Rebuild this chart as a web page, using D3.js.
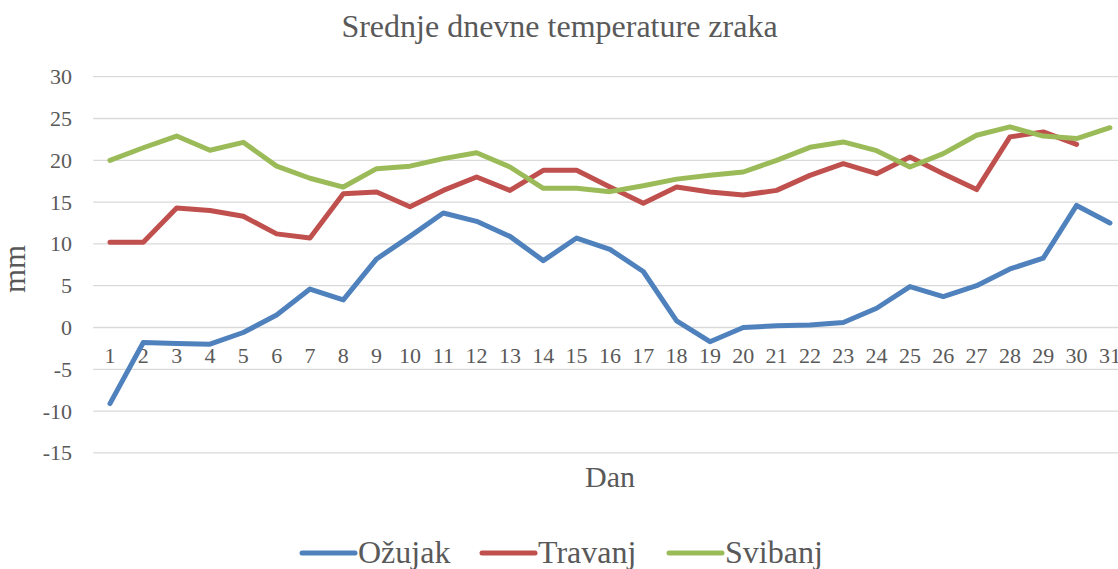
<!DOCTYPE html>
<html>
<head>
<meta charset="utf-8">
<title>Srednje dnevne temperature zraka</title>
<script src="https://cdn.jsdelivr.net/npm/d3@7"></script>
<style>
    body { margin: 0; background: #fff; }
    svg { display: block; }
    text { font-family: "Liberation Serif", "Times New Roman", serif; fill: #595959; }
</style>
</head>
<body>
<script>
    const days = d3.range(1, 32).map(String);
    const ozujak = [-9.1, -1.8, -1.9, -2.0, -0.6, 1.5, 4.6, 3.3, 8.2, 10.9,
        13.7, 12.7, 10.9, 8.0, 10.7, 9.35, 6.7, 0.8, -1.7, 0.0,
        0.2, 0.3, 0.6, 2.3, 4.9, 3.7, 5.0, 7.0, 8.3, 14.6, 12.5];
    const travanj = [10.2, 10.2, 14.3, 14.0, 13.3, 11.2, 10.7, 16.0, 16.2, 14.45,
        16.4, 18.0, 16.4, 18.8, 18.8, 16.8, 14.85, 16.8, 16.2, 15.85,
        16.4, 18.2, 19.6, 18.4, 20.4, 18.4, 16.5, 22.8, 23.4, 21.9, null];
    const svibanj = [20.0, 21.5, 22.9, 21.2, 22.15, 19.3, 17.85, 16.8, 19.0, 19.3,
        20.2, 20.9, 19.2, 16.65, 16.65, 16.25, 16.95, 17.75, 18.2, 18.6,
        20.0, 21.55, 22.2, 21.15, 19.2, 20.8, 23.0, 24.0, 22.9, 22.6, 23.9];
    const yTicks = [-15, -10, -5, 0, 5, 10, 15, 20, 25, 30];

    const series = [
        { name: 'Ožujak', values: ozujak, color: '#4f81bd' },
        { name: 'Travanj', values: travanj, color: '#c0504d' },
        { name: 'Svibanj', values: svibanj, color: '#9bbb59' }
    ];

    const width = 1118;
    const height = 569;

    const svg = d3.select('body')
        .append('svg')
        .attr('width', width)
        .attr('height', height);

    // plot area runs past the right edge, as in the original
    const x = d3.scaleBand()
        .domain(days)
        .range([93.3, 1126.6]);

    const y = d3.scaleLinear()
        .domain([-15, 30])
        .range([452.9, 76.7]);

    // gridlines
    svg.append('g')
        .selectAll('line')
        .data(yTicks)
        .enter()
        .append('line')
        .attr('x1', 93.3)
        .attr('x2', width)
        .attr('y1', d => y(d))
        .attr('y2', d => y(d))
        .attr('stroke', '#d9d9d9')
        .attr('stroke-width', 1.3);

    // y axis labels (plain hyphen for negatives)
    const yAxis = svg.append('g')
        .attr('transform', 'translate(72,0)')
        .call(d3.axisLeft(y).tickValues(yTicks).tickFormat(d => String(d)).tickSize(0).tickPadding(0));
    yAxis.select('.domain').remove();
    yAxis.selectAll('text')
        .style('font-size', '22px')
        .attr('fill', '#595959');

    // x axis labels sit just under the zero line
    const xAxis = svg.append('g')
        .attr('transform', `translate(0, ${y(0)})`)
        .call(d3.axisBottom(x).tickSize(0).tickPadding(20));
    xAxis.select('.domain').remove();
    xAxis.selectAll('text')
        .style('font-size', '22px')
        .attr('fill', '#595959');

    const line = d3.line()
        .defined(d => d != null)
        .x((d, i) => x(days[i]) + x.bandwidth() / 2)
        .y(d => y(d));

    svg.selectAll('.series')
        .data(series)
        .enter()
        .append('path')
        .attr('class', 'series')
        .attr('d', d => line(d.values))
        .attr('fill', 'none')
        .attr('stroke', d => d.color)
        .attr('stroke-width', 5)
        .attr('stroke-linecap', 'round')
        .attr('stroke-linejoin', 'round');

    // title
    svg.append('text')
        .attr('x', 559.5)
        .attr('y', 37)
        .attr('text-anchor', 'middle')
        .style('font-size', '32px')
        .text('Srednje dnevne temperature zraka');

    // axis titles
    svg.append('text')
        .attr('transform', 'translate(25, 269) rotate(-90)')
        .attr('text-anchor', 'middle')
        .style('font-size', '31px')
        .text('mm');

    svg.append('text')
        .attr('x', 610)
        .attr('y', 487)
        .attr('text-anchor', 'middle')
        .style('font-size', '30px')
        .text('Dan');

    // legend
    const legendX = [302, 482, 669];
    const legend = svg.selectAll('.legend')
        .data(series)
        .enter()
        .append('g')
        .attr('class', 'legend')
        .attr('transform', (d, i) => `translate(${legendX[i]}, 553)`);

    legend.append('line')
        .attr('x1', 0)
        .attr('x2', 53)
        .attr('stroke', d => d.color)
        .attr('stroke-width', 5)
        .attr('stroke-linecap', 'round');

    legend.append('text')
        .attr('x', 56)
        .attr('y', 10)
        .style('font-size', '32px')
        .text(d => d.name);
</script>
</body>
</html>
